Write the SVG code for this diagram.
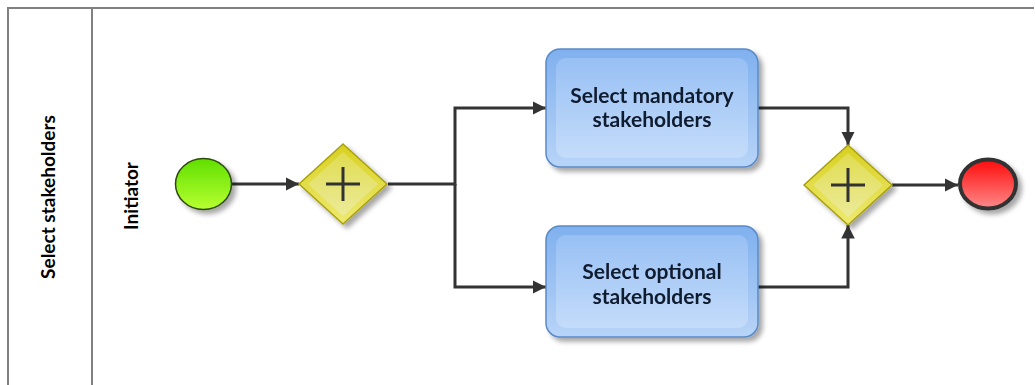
<svg xmlns="http://www.w3.org/2000/svg" width="1035" height="385" viewBox="0 0 1035 385">
<defs>
<style>
.lane{fill:none;stroke:#808080;stroke-width:2}
.lbl{font-family:Lato,"Open Sans",sans-serif;font-weight:bold;font-size:19px;fill:#000}
.tt{font-family:Lato,"Open Sans",sans-serif;font-weight:bold;font-size:21px;fill:#111a2e;text-anchor:middle}
.flow{fill:none;stroke:#333;stroke-width:3}
.cross{stroke:#333;stroke-width:3}
</style>
<linearGradient id="gGreen" x1="0" y1="0" x2="0" y2="1"><stop offset="0" stop-color="#5fe000"/><stop offset="1" stop-color="#b8ff30"/></linearGradient>
<linearGradient id="gRed" x1="0" y1="0" x2="0" y2="1"><stop offset="0" stop-color="#ff0a0a"/><stop offset="1" stop-color="#ff8a8a"/></linearGradient>
<linearGradient id="gGate" x1="0" y1="0" x2="0" y2="1"><stop offset="0" stop-color="#d8d020"/><stop offset="1" stop-color="#eeea70"/></linearGradient>
<linearGradient id="gGateIn" x1="0" y1="0" x2="0" y2="1"><stop offset="0" stop-color="#e0dc50"/><stop offset="1" stop-color="#eceb9a"/></linearGradient>
<linearGradient id="gTask" x1="0" y1="0" x2="0" y2="1"><stop offset="0" stop-color="#7fb0ee"/><stop offset="1" stop-color="#b8d4f8"/></linearGradient>
<linearGradient id="gTaskIn" x1="0" y1="0" x2="0" y2="1"><stop offset="0" stop-color="#98c0f4"/><stop offset="1" stop-color="#c4dcfa"/></linearGradient>
<filter id="sh" x="-20%" y="-20%" width="150%" height="150%"><feGaussianBlur in="SourceAlpha" stdDeviation="2.5"/><feOffset dx="4" dy="4"/><feComponentTransfer><feFuncA type="linear" slope="0.35"/></feComponentTransfer><feMerge><feMergeNode/><feMergeNode in="SourceGraphic"/></feMerge></filter>
<marker id="arr" viewBox="0 0 10 10" refX="10" refY="5" markerWidth="4.5" markerHeight="4.5" orient="auto" markerUnits="strokeWidth"><path d="M0,0 L10,5 L0,10 z" fill="#333"/></marker>
</defs>
<g id="pool">
<path class="lane" d="M8,385 V8 H1034"/>
<line class="lane" x1="92" y1="8" x2="92" y2="385"/>
<text class="lbl" transform="translate(55,197) rotate(-90)" text-anchor="middle">Select stakeholders</text>
<text class="lbl" transform="translate(138,196) rotate(-90)" text-anchor="middle">Initiator</text>
</g>
<g id="connectors">
<path class="flow" marker-end="url(#arr)" d="M232,184 H299"/>
<path class="flow" marker-end="url(#arr)" d="M388,184 H455 V108 H546"/>
<path class="flow" marker-end="url(#arr)" d="M455,184 V287 H546"/>
<path class="flow" marker-end="url(#arr)" d="M758,108 H848 V145"/>
<path class="flow" marker-end="url(#arr)" d="M758,287 H848 V225"/>
<path class="flow" marker-end="url(#arr)" d="M892,185 H958"/>
</g>
<g id="start" filter="url(#sh)">
<ellipse cx="203.5" cy="184" rx="28" ry="25.5" fill="url(#gGreen)" stroke="#2d4a10" stroke-width="1.5"/>
</g>
<g id="gw1" filter="url(#sh)">
<polygon points="343,144 387,184 343,224 299,184" fill="url(#gGate)" stroke="#a8a010" stroke-width="1.5"/>
<polygon points="343,152 378,184 343,216 308,184" fill="url(#gGateIn)"/>
<line class="cross" x1="326" y1="184" x2="360" y2="184"/>
<line class="cross" x1="343" y1="167" x2="343" y2="201"/>
</g>
<g id="task1" filter="url(#sh)">
<rect x="546" y="49" width="212" height="118" rx="14" fill="url(#gTask)" stroke="#5a8ac8" stroke-width="1.5"/>
<rect x="556" y="58" width="192" height="100" rx="10" fill="url(#gTaskIn)"/>
<text class="tt" x="652" y="103">Select mandatory</text>
<text class="tt" x="652" y="127">stakeholders</text>
</g>
<g id="task2" filter="url(#sh)">
<rect x="546" y="226" width="212" height="111" rx="14" fill="url(#gTask)" stroke="#5a8ac8" stroke-width="1.5"/>
<rect x="556" y="235" width="192" height="93" rx="10" fill="url(#gTaskIn)"/>
<text class="tt" x="652" y="279">Select optional</text>
<text class="tt" x="652" y="304">stakeholders</text>
</g>
<g id="gw2" filter="url(#sh)">
<polygon points="848,145 892,185 848,225 804,185" fill="url(#gGate)" stroke="#a8a010" stroke-width="1.5"/>
<polygon points="848,153 883,185 848,217 813,185" fill="url(#gGateIn)"/>
<line class="cross" x1="831" y1="185" x2="865" y2="185"/>
<line class="cross" x1="848" y1="168" x2="848" y2="202"/>
</g>
<g id="end" filter="url(#sh)">
<ellipse cx="988" cy="184" rx="28" ry="24.5" fill="url(#gRed)" stroke="#333" stroke-width="4"/>
</g>
</svg>
